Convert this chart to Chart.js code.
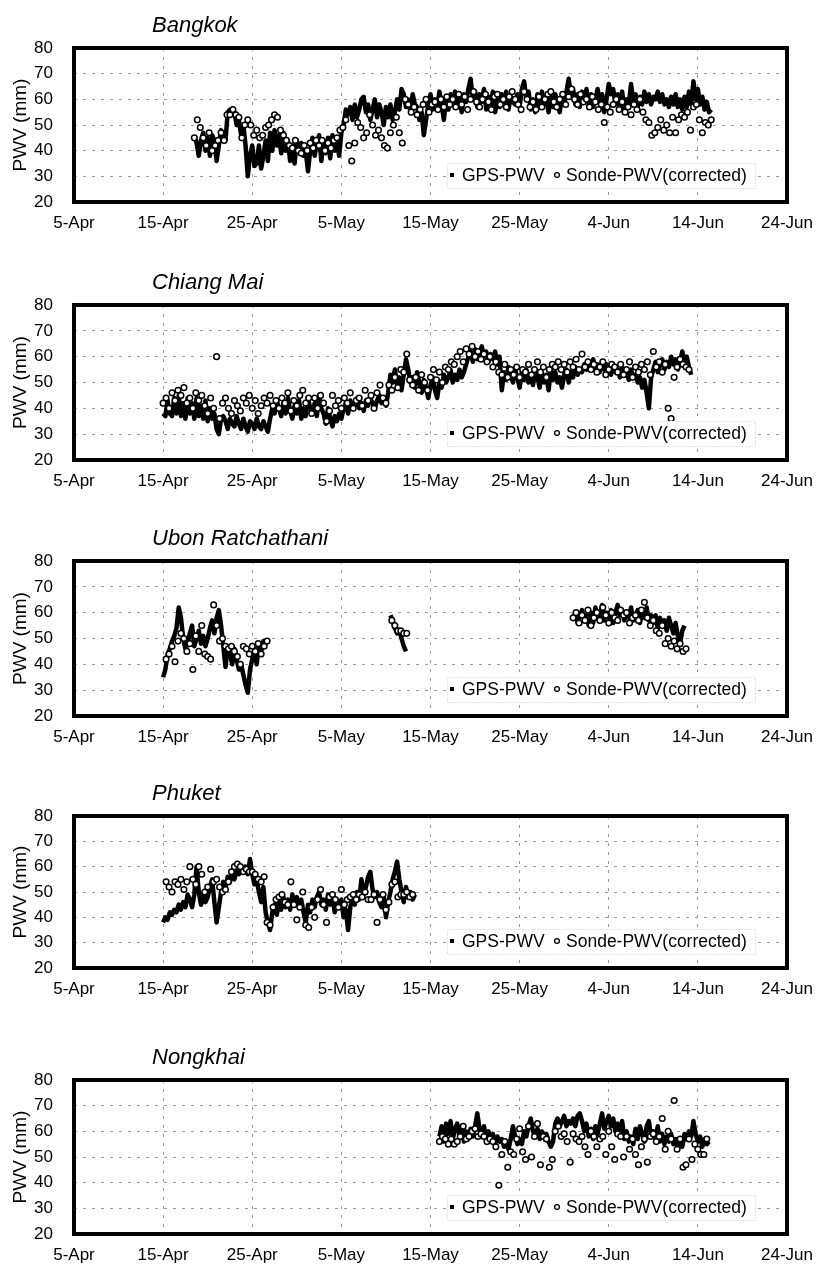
<!DOCTYPE html>
<html>
<head>
<meta charset="utf-8">
<script src="https://cdn.jsdelivr.net/npm/chart.js@4.4.1/dist/chart.umd.min.js"></script>
<style>
  html, body { margin: 0; padding: 0; background: #fff; }
  body { width: 824px; height: 1268px; position: relative; overflow: hidden; }
  .panel { position: absolute; left: 0; width: 824px; height: 236px; }
</style>
</head>
<body>
<div class="panel" style="top:0px"><canvas id="c0"></canvas></div>
<div class="panel" style="top:257px"><canvas id="c1"></canvas></div>
<div class="panel" style="top:513px"><canvas id="c2"></canvas></div>
<div class="panel" style="top:768px"><canvas id="c3"></canvas></div>
<div class="panel" style="top:1032px"><canvas id="c4"></canvas></div>
<script>
// ─── Data ────────────────────────────────────────────────────────
// x = days since 5-Apr
const TICK_LABELS = ['5-Apr','15-Apr','25-Apr','5-May','15-May','25-May','4-Jun','14-Jun','24-Jun'];
const STATIONS = ['Bangkok', 'Chiang Mai', 'Ubon Ratchathani', 'Phuket', 'Nongkhai'];
const GPS_STEP = 0.25;     // 6-hourly
const SONDE_STEP = 1 / 3;  // 8-hourly

// Bangkok
const BKK_GPS_START = [13.5];
const BKK_GPS = [[
  46,43,38,44, 47,40,45,38, 46,44,36,42, 48,46,44,55, 56,54,55,50,
  52,46,50,42, 30,38,42,34, 35,42,33,38, 44,36,47,40, 48,42,46,39,
  47,40,44,36, 42,35,44,40, 43,38,40,32, 40,45,38,43, 46,36,44,39,
  45,37,46,40, 43,38,47,50, 56,54,57,52, 58,53,56,60, 61,55,58,52,
  56,60,53,58, 55,50,57,53, 58,52,55,60, 56,64,62,57, 60,55,62,58,
  57,52,55,46, 52,58,62,56, 60,57,63,58, 52,60,56,62, 58,63,57,61,
  55,62,59,64, 68,60,63,57, 62,59,64,56, 61,58,63,55, 60,57,62,58,
  63,56,61,59, 58,62,57,64, 67,60,63,56, 60,55,62,57, 63,58,60,55,
  61,57,62,59, 55,61,58,63, 68,62,64,58, 62,57,63,59, 64,58,62,57,
  60,64,59,62, 55,60,66,62, 64,58,62,57, 63,56,60,58, 66,59,62,57,
  61,58,63,59, 62,58,61,60, 63,59,62,58, 60,57,61,58, 62,57,60,56,
  61,57,63,58, 67,60,64,58, 61,56,59,55, 56
]];
const BKK_SONDE_START = [13.5];
const BKK_SONDE = [[
  45,52,49, 45,42,47, 40,42,44, 47,44,54, 54,56,54, 53,45,50, 52,50,46,
  48,45,46, 49,50,52, 54,53,48, 46,44,42, 41,44,40, 39,42,40, 43,41,44,
  42,44,40, 43,41,44, 45,48,49, 52,42,36, 43,51,49, 45,47,54, 50,46,48,
  45,42,41, 47,50,53, 47,43,60, 58,55,57, 54,56,58, 60,55,58, 59,56,60,
  57,61,58, 60,57,62, 58,61,56, 60,63,59, 57,60,62, 59,56,61, 62,58,60,
  57,61,63, 60,58,56, 63,60,57, 59,56,61, 57,60,62, 63,59,57, 60,62,58,
  61,64,60, 58,62,59, 60,57,61, 59,56,58, 51,57,55, 58,60,56, 59,55,57,
  54,58,56, 60,55,52, 51,46,47, 49,52,48, 50,47,53, 47,52,54, 53,55,48,
  57,58,52, 47,51,50, 52
]];

// Chiang Mai
const CMI_GPS_START = [10];
const CMI_GPS = [[
  38,37,43,38, 37,44,38,45, 37,42,36,44, 38,42,36,44, 37,41,36,43,
  35,40,36,38, 32,30,36,37, 35,32,36,34, 33,37,34,32, 36,33,31,35,
  34,32,36,33, 32,35,33,31, 36,40,38,43, 40,37,42,38, 44,39,36,41,
  38,43,36,40, 37,44,40,38, 42,37,45,40, 38,34,40,36, 33,37,35,38,
  36,40,42,38, 43,40,41,44, 40,42,39,43, 41,44,42,40, 43,45,42,44,
  41,46,53,50, 55,49,52,47, 53,59,55,50, 52,48,54,50, 46,51,48,44,
  49,52,47,44, 50,48,53,50, 52,55,50,53, 51,55,52,54, 57,60,62,58,
  63,59,61,64, 60,62,58,61, 59,62,57,60, 47,54,51,56, 53,50,55,52,
  48,54,51,55, 50,53,49,55, 52,48,54,50, 53,47,55,51, 54,50,52,48,
  53,55,50,54, 52,56,53,55, 54,57,55,58, 56,59,55,57, 54,58,55,57,
  56,53,57,54, 55,52,56,53, 54,51,55,52, 53,50,52,48, 51,46,40,52,
  55,58,54,57, 59,55,58,56, 60,57,59,55, 58,62,57,60, 56,53
]];
const CMI_SONDE_START = [10];
const CMI_SONDE = [[
  42,44,40, 46,43,47, 45,48,42, 44,40,46, 43,45,41, 38,44,40, 60,36,42,
  44,40,38, 43,41,39, 44,42,45, 40,43,38, 41,44,42, 45,41,43, 40,44,42,
  46,39,43, 41,45,47, 42,44,38, 44,40,45, 42,35,39, 45,41,43, 40,44,42,
  46,40,43, 44,41,47, 43,45,40, 46,49,44, 42,49,47, 52,48,55, 54,61,51,
  49,52,47, 53,50,47, 52,55,51, 54,50,56, 55,58,57, 60,62,58, 63,61,64,
  60,62,59, 61,58,60, 56,58,54, 53,57,52, 55,53,56, 52,55,54, 57,53,55,
  58,54,56, 52,55,57, 56,58,55, 57,54,58, 56,59,55, 61,56,58, 55,57,54,
  56,58,53, 55,57,56, 54,57,53, 55,58,52, 56,54,57, 55,58,53, 62,56,58,
  54,57,40, 36,52,56, 59,57,56, 55
]];

// Ubon Ratchathani (three separate runs)
const UBN_GPS_START = [10, 35.5, 56];
const UBN_GPS = [
  [35,38,44,46, 49,51,54,62, 58,50,46,48, 52,55,47,50, 53,48,51,47,
   50,54,57,52, 58,61,55,47, 39,47,44,40, 46,42,38,40, 36,32,29,38,
   42,46,40,48, 45,49,47],
  [59,57,54,52,53,50,47,45],
  [58,60,56,59, 61,57,59,55, 60,56,62,58, 59,63,57,60, 58,61,56,60,
   63,59,61,57, 60,58,62,57, 59,61,56,60, 58,62,57,59, 56,59,54,58,
   55,57,53,58, 55,52,56,51, 48,53,55]
];
const UBN_SONDE_START = [10 + 1 / 3, 35 + 2 / 3, 56];
const UBN_SONDE = [
  [42,44,47,41,49,52, 50,45,48,38,51,45, 55,44,43,42,63,55, 49,50,47,46,47,45,
   43,40,47,46,44,47, 45,48,44,47,49],
  [57,55,53,53,52,52],
  [58,60,56, 59,57,61, 55,58,60, 57,62,59, 56,60,58, 57,61,59, 60,56,58,
   59,57,61, 64,58,55, 57,53,52, 55,48,50, 47,49,46, 48,45,46]
];

// Phuket
const HKT_GPS_START = [10];
const HKT_GPS = [[
  38,40,39,42, 41,43,42,45, 43,46,44,49, 47,44,49,60, 50,45,49,46,
  48,52,55,46, 38,44,50,54, 52,56,54,58, 55,59,57,60, 58,60,57,63,
  57,53,55,50, 46,52,42,38, 35,42,45,41, 46,43,48,44, 47,43,49,45,
  48,44,47,42, 38,45,42,47, 44,48,50,45, 47,43,49,45, 48,42,46,44,
  47,40,43,35, 44,48,45,50, 47,55,49,52, 56,58,51,48, 50,46,44,48,
  40,46,50,55, 58,62,55,50, 46,52,48,50, 47,49
]];
const HKT_SONDE_START = [10 + 1 / 3];
const HKT_SONDE = [[
  54,52,50, 54,53,55, 51,54,60, 55,53,60, 57,50,52, 59,54,55, 52,50,51,
  54,58,60, 61,60,58, 59,58,58, 57,55,54, 56,38,37, 44,47,48, 49,46,45,
  54,45,39, 44,50,37, 36,44,40, 47,51,45, 38,48,49, 47,44,51, 45,47,48,
  49,47,49, 48,50,47, 47,49,38, 47,49,43, 46,53,54, 48,49,49, 50,48,49
]];

// Nongkhai
const NKH_GPS_START = [41];
const NKH_GPS = [[
  58,62,56,63, 59,64,57,61, 63,58,62,56, 60,57,61,58, 62,67,61,58,
  62,57,60,56, 59,55,58,56, 57,54,55,53, 57,62,58,55, 57,55,60,58,
  62,65,60,58, 61,57,60,58, 59,56,54,56, 63,65,62,64, 66,62,64,63,
  65,62,66,67, 64,60,63,58, 61,57,62,59, 63,67,61,64, 66,62,65,60,
  63,59,64,57, 60,56,58,55, 61,57,62,59, 56,62,64,58, 60,57,62,56,
  59,55,58,56, 59,55,57,53, 56,54,59,57, 60,58,64,59, 56,58,54,57,
  55,56
]];
const NKH_SONDE_START = [41];
const NKH_SONDE = [[
  56,58,57, 55,57,55, 56,58,62, 57,58,60, 61,58,59, 58,56,57, 56,54,39,
  51,56,46, 52,51,57, 61,52,49, 62,50,58, 63,47,58, 57,46,49, 60,62,58,
  59,56,48, 59,57,56, 58,54,51, 60,58,54, 57,58,51, 60,54,49, 59,58,50,
  58,53,57, 51,47,54, 57,48,58, 59,56,58, 65,53,60, 57,72,53, 57,46,47,
  57,49,55, 53,51,51, 57
]];

const PANELS = [
  { name: STATIONS[0], top: 0,    plotH: 154, gps: [BKK_GPS_START, BKK_GPS], sonde: [BKK_SONDE_START, BKK_SONDE] },
  { name: STATIONS[1], top: 257,  plotH: 155, gps: [CMI_GPS_START, CMI_GPS], sonde: [CMI_SONDE_START, CMI_SONDE] },
  { name: STATIONS[2], top: 513,  plotH: 155, gps: [UBN_GPS_START, UBN_GPS], sonde: [UBN_SONDE_START, UBN_SONDE] },
  { name: STATIONS[3], top: 768,  plotH: 152, gps: [HKT_GPS_START, HKT_GPS], sonde: [HKT_SONDE_START, HKT_SONDE] },
  { name: STATIONS[4], top: 1032, plotH: 154, gps: [NKH_GPS_START, NKH_GPS], sonde: [NKH_SONDE_START, NKH_SONDE] }
];

// ─── Helpers ─────────────────────────────────────────────────────
const FONT = '"Liberation Sans", Arial, sans-serif';
const PANEL_H = 236;
const PLOT_TOP = 48;

function toPoints(starts, segs, step) {
  const pts = [];
  segs.forEach((seg, k) => {
    if (k > 0) pts.push({ x: starts[k] - step / 2, y: null }); // break the line
    seg.forEach((v, i) => pts.push({ x: starts[k] + i * step, y: v }));
  });
  return pts;
}

// frame, station name and in-plot legend
const framePlugin = {
  id: 'frame',
  afterDatasetsDraw(chart, args, opts) {
    const { ctx, chartArea: a } = chart;
    const ds = chart.data.datasets;
    ctx.save();

    // legend box
    const bx = a.right - 340, by = a.bottom - 39;
    ctx.fillStyle = '#fff';
    ctx.fillRect(bx, by, 308, 25);
    ctx.setLineDash([1, 2]);
    ctx.strokeStyle = '#c8c8c8';
    ctx.lineWidth = 1;
    ctx.strokeRect(bx + 0.5, by + 0.5, 308, 25);
    ctx.setLineDash([]);

    const cy = a.bottom - 27;
    ctx.fillStyle = '#000';
    ctx.fillRect(a.right - 337, cy - 2, 4, 4);
    ctx.font = '17.5px ' + FONT;
    ctx.textAlign = 'left';
    ctx.textBaseline = 'middle';
    ctx.fillText(ds[1].label, a.right - 325, cy + 1);
    ctx.beginPath();
    ctx.arc(a.right - 230, cy, 2.4, 0, Math.PI * 2);
    ctx.lineWidth = 1.3;
    ctx.strokeStyle = '#000';
    ctx.stroke();
    ctx.fillText(ds[0].label, a.right - 221, cy + 1);

    // thick plot frame
    ctx.lineWidth = 4;
    ctx.strokeStyle = '#000';
    ctx.strokeRect(a.left, a.top, a.right - a.left, a.bottom - a.top);

    // station name
    ctx.font = 'italic 22px ' + FONT;
    ctx.fillStyle = '#000';
    ctx.fillText(opts.title, 152, a.top - 22);
    ctx.restore();
  }
};

Chart.defaults.font.family = FONT;
Chart.defaults.color = '#000';

PANELS.forEach((p, i) => {
  const gps = toPoints(p.gps[0], p.gps[1], GPS_STEP);
  const sonde = toPoints(p.sonde[0], p.sonde[1], SONDE_STEP);
  const axisH = PANEL_H - PLOT_TOP - p.plotH;

  new Chart(document.getElementById('c' + i), {
    type: 'line',
    data: {
      datasets: [
        { label: 'Sonde-PWV(corrected)', data: sonde, showLine: false, order: 0,
          pointRadius: 2.8, pointBorderWidth: 1.5, pointBackgroundColor: '#fff', pointBorderColor: '#000' },
        { label: 'GPS-PWV', data: gps, order: 1, borderColor: '#000', borderWidth: 4.5,
          pointRadius: 0, tension: 0, spanGaps: false, borderJoinStyle: 'round' }
      ]
    },
    options: {
      responsive: true,
      maintainAspectRatio: false,
      animation: false,
      events: [],
      layout: { padding: { top: PLOT_TOP, right: 31, left: 0, bottom: 0 } },
      plugins: { legend: { display: false }, tooltip: { enabled: false }, frame: { title: p.name } },
      scales: {
        x: {
          type: 'linear', min: 0, max: 80,
          ticks: { stepSize: 10, autoSkip: false, maxRotation: 0, padding: 11,
                   font: { size: 17 }, callback: v => TICK_LABELS[Math.round(v / 10)] },
          grid: { color: '#9a9a9a', lineWidth: 1, drawTicks: false },
          border: { display: false, dash: [3, 6] },
          afterFit: s => { s.height = axisH; }
        },
        y: {
          min: 20, max: 80,
          ticks: { stepSize: 10, padding: 21, font: { size: 17 } },
          title: { display: true, text: 'PWV (mm)', font: { size: 19 }, padding: { top: 9, bottom: 0 } },
          grid: { color: '#9a9a9a', lineWidth: 1, drawTicks: false },
          border: { display: false, dash: [3, 6] },
          afterFit: s => { s.width = 74; }
        }
      }
    },
    plugins: [framePlugin]
  });
});
</script>
</body>
</html>
